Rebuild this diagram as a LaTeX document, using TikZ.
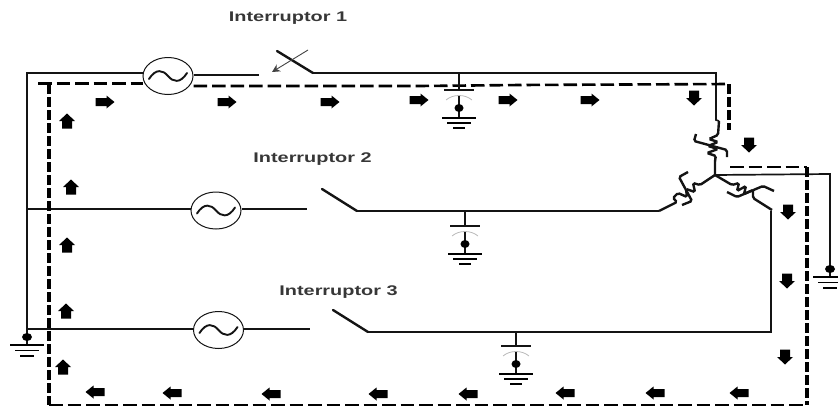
\documentclass[tikz,border=0pt]{standalone}
\usepackage{fontspec}
\setmainfont{Liberation Sans}
\usetikzlibrary{shapes.geometric,arrows.meta}
\definecolor{ink}{HTML}{141414}
\tikzset{
  x=1pt,y=-1pt,
  wire/.style={draw=ink,line width=1.7pt},
  blade/.style={draw=ink,line width=2.4pt,line cap=round},
  hdash/.style={draw=black,line width=2.6pt,dash pattern=on 13.5pt off 5pt},
  vdash/.style={draw=black,line width=3.8pt,dash pattern=on 9.5pt off 3.5pt},
  coilline/.style={draw=ink,line width=2.4pt,rounded corners=1.6pt},
  acsource/.style={ellipse,draw=ink,line width=1pt,fill=white,inner sep=0pt,minimum width=50pt,minimum height=37pt,
    path picture={\begin{scope}[shift={(path picture bounding box.center)}]
      \draw[ink,line width=1.9pt,line cap=round] (-19,3) .. controls (-12,-8) and (-5,-6) .. (0,0) .. controls (5,6) and (12,8) .. (19,-3);
    \end{scope}}},
  lbl/.style={font=\bfseries\fontsize{14}{16}\selectfont,text=ink!85,inner sep=0pt,xscale=1.42},
  harrow/.pic={\fill[black] (-9.5,-4) -- (1.5,-4) -- (1.5,-6.5) -- (9.5,0) -- (1.5,6.5) -- (1.5,4) -- (-9.5,4) -- cycle;},
  varrow/.pic={\fill[black] (-5,7.5) -- (-5,0) -- (-8,0) -- (0,-7.5) -- (8,0) -- (5,0) -- (5,7.5) -- cycle;},
  capgnd/.pic={
    \draw[ink,line width=1.2pt] (-15,0) -- (15,0);
    \draw[gray!55,line width=.8pt] (-13,10) .. controls (-6,4) and (6,4) .. (13,10);
    \draw[ink,line width=1.6pt] (0,6) -- (0,28);
    \fill[black] (0,18) ellipse (4.5pt and 4pt);
    \draw[black,line width=1.6pt] (-17,28) -- (17,28);
    \draw[black,line width=1.5pt] (-12,33) -- (12,33);
    \draw[black,line width=1.5pt] (-6,38) -- (6,38);
  },
  earth/.pic={
    \fill[black] (0,-8) ellipse (5pt and 4pt);
    \draw[black,line width=1.6pt] (-17,0) -- (17,0);
    \draw[black,line width=1.5pt] (-12,5.5) -- (12,5.5);
    \draw[black,line width=1.5pt] (-7,11) -- (7,11);
  },
}
\begin{document}
\begin{tikzpicture}
\useasboundingbox (0,0) rectangle (838,407);
% sources
\node[acsource] (s1) at (168,76) {};
\node[acsource] (s2) at (216,210.5) {};
\node[acsource] (s3) at (218.5,330) {};
% labels
\node[lbl] (l1) at (288,18) {Interruptor 1};
\node[lbl] (l2) at (312.5,159) {Interruptor 2};
\node[lbl] (l3) at (338.5,292) {Interruptor 3};
% coordinates
\coordinate (corner) at (27,73);
\coordinate (gl) at (27,345);
\coordinate (open1) at (259,75);
\coordinate (bladetop1) at (277,51);
\coordinate (hinge1) at (313,73);
\coordinate (tr) at (716,73);
\coordinate (coilT) at (719,121);
\coordinate (star) at (715,175);
\coordinate (open2) at (307,209);
\coordinate (bladetop2) at (322,189);
\coordinate (hinge2) at (357,211);
\coordinate (lfoot) at (659,211);
\coordinate (open3) at (310,329);
\coordinate (bladetop3) at (333,310);
\coordinate (hinge3) at (368,332);
\coordinate (rfoot) at (771,211);
\coordinate (rbot) at (771,332);
\coordinate (eastc) at (830,174);
\coordinate (gr) at (830,277);
\coordinate (j2) at (27,209);
\coordinate (j3) at (27,329);
% wires
\draw[wire] (gl) -- (corner) -- (corner -| s1.west);
\draw[wire] (s1.east |- open1) -- (open1);
\draw[wire] (hinge1) -- (tr) -- (716,120) -- (coilT);
\draw[line width=2.6pt,ink] (563,73) -- (635,73);
\draw[wire] (j2) -- (s2.west |- j2);
\draw[wire] (s2.east |- open2) -- (open2);
\draw[wire] (hinge2) -- (lfoot);
\draw[wire] (j3) -- (s3.west |- j3);
\draw[wire] (s3.east |- open3) -- (open3);
\draw[wire] (hinge3) -- (rbot) -- (rfoot);
\draw[wire] (star) -- (eastc) -- (gr);
% switch blades
\draw[blade] (bladetop1) -- (hinge1);
\draw[blade] (bladetop2) -- (hinge2);
\draw[blade] (bladetop3) -- (hinge3);
\draw[ink!80,line width=.9pt,-{Stealth[length=8pt,width=8pt]}] (308,50) -- (272,72);
% saturable windings
\draw[coilline] (coilT) -- (718,135) -- (709,139) -- (718,142) -- (708,146) -- (718,149) -- (707,153) -- (716,156) -- (715,160) -- (star);
\draw[coilline] (696,134) -- (694,141) -- (727,150) -- (727,157);
\draw[coilline] (star) -- (700,185) -- (693,183) -- (695,192) -- (686,189) -- (687,197) -- (678,193) -- (673,198) -- (677,202) -- (lfoot);
\draw[coilline] (688,172) -- (679,177) -- (692,201) -- (682,205);
\draw[coilline] (star) -- (732,185) -- (739,183) -- (737,191) -- (746,186) -- (744,194) -- (753,190) -- (753,198) -- (772,210);
\draw[coilline] (727,192) -- (737,197) -- (763,186) -- (774,191);
% dashed current path
\draw[hdash] (38,83.5) -- (s1.west |- 38,83.5);
\draw[hdash] (s1.east |- 0,86) -- (420,86) -- (520,85) -- (729,84);
\draw[vdash] (729,84) -- (729,130);
\draw[vdash] (49,84) -- (49,405);
\draw[hdash] (49,405) -- (807,405);
\draw[hdash] (730,167) -- (807,167);
\draw[vdash] (807,167) -- (807,405);
% capacitor-ground branches
\coordinate (c1top) at (459,73);\coordinate (c1) at (459,90);
\coordinate (c2top) at (465,211);\coordinate (c2) at (465,226);
\coordinate (c3top) at (516,332);\coordinate (c3) at (516,346);
\draw[ink,line width=1.2pt] (c1top) -- (c1);
\draw[ink,line width=1.2pt] (c2top) -- (c2);
\draw[ink,line width=1.2pt] (c3top) -- (c3);
\pic at (c1) {capgnd};
\pic at (c2) {capgnd};
\pic at (c3) {capgnd};
\pic at (gl) {earth};
\pic at (gr) {earth};
% direction arrows
\foreach \px/\py in {105/102,227/102,330/102,419/100,508/100,590/100}
  \pic at (\px,\py) {harrow};
\foreach \px/\py in {694/98,749/145,788/212,787/281,785/357}
  \pic[yscale=-1] at (\px,\py) {varrow};
\foreach \px/\py in {739/393,655/393,565/393,468/394,378/394,271/394,172/393,95/392}
  \pic[xscale=-1] at (\px,\py) {harrow};
\foreach \px/\py in {67/121,71/187,67/245,66/311,63/367}
  \pic at (\px,\py) {varrow};
\end{tikzpicture}
\end{document}
